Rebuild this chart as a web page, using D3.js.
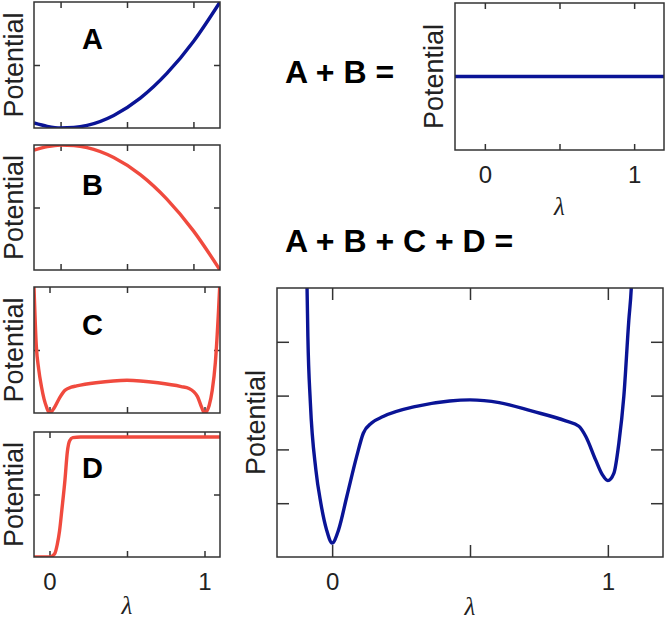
<!DOCTYPE html>
<html>
<head>
<meta charset="utf-8">
<script src="https://cdn.jsdelivr.net/npm/d3@7"></script>
<style>
  body { margin: 0; background: #fff; }
  svg { display: block; }
  .tick line { stroke: #333; stroke-width: 1.5; }
  .tick text { font-family: "Liberation Sans", Arial, sans-serif; font-size: 24px; fill: #222; }
</style>
</head>
<body>
<svg width="666" height="623"></svg>
<script>
// (lambda on x, potential on y)
var lambdaA = [-0.2, -0.1, 0, 0.1, 0.2, 0.4, 0.6, 0.8, 1.0, 1.2];
var potA    = [0.04, 0.013, 0.0, 0.004, 0.021, 0.10, 0.237, 0.433, 0.687, 1.0];

var lambdaB = [-0.2, -0.1, 0, 0.1, 0.2, 0.4, 0.6, 0.8, 1.0, 1.2];
var potB    = [0.96, 0.987, 1.0, 0.996, 0.979, 0.90, 0.763, 0.567, 0.313, 0.0];

var lambdaC = [-0.1, -0.085, -0.07, -0.052, -0.035, -0.02, 0, 0.03, 0.065, 0.1, 0.14, 0.175,
               0.3, 0.5, 0.7, 0.85, 0.9, 0.93, 0.955, 0.98, 1.0, 1.015, 1.03, 1.05, 1.07, 1.09, 1.1];
var potC    = [1.0, 0.53, 0.35, 0.21, 0.11, 0.05, 0.0, 0.04, 0.12, 0.18, 0.205, 0.215,
               0.24, 0.26, 0.24, 0.21, 0.195, 0.17, 0.13, 0.05, 0.0, 0.015, 0.06, 0.18, 0.40, 0.8, 1.05];

var lambdaD = [-0.1, 0, 0.02, 0.035, 0.05, 0.065, 0.08, 0.1, 0.115, 0.13, 0.15, 0.2, 1.1];
var potD    = [0, 0, 0.01, 0.03, 0.1, 0.21, 0.38, 0.62, 0.84, 0.93, 0.955, 0.96, 0.96];

var lambdaAB = [-0.2, 1.2];
var potAB    = [0.5, 0.5];

var lambdaSum = [-0.095, -0.091, -0.088, -0.079, -0.059, -0.041, -0.02, 0, 0.023, 0.053, 0.089, 0.113,
                 0.143, 0.185, 0.305, 0.426, 0.5, 0.606, 0.726, 0.847, 0.895, 0.92, 0.956, 0.98, 1.0,
                 1.022, 1.04, 1.058, 1.076, 1.085, 1.09];
var potSum    = [5.6, 5.0, 4.1, 2.87, 1.62, 1.0, 0.5, 0.26, 0.5, 1.12, 1.87, 2.30,
                 2.49, 2.61, 2.80, 2.9, 2.92, 2.87, 2.71, 2.53, 2.43, 2.24, 1.80, 1.53, 1.42,
                 1.56, 2.12, 2.99, 4.4, 5.0, 5.6];

var xTicks = [0, 0.5, 1];
var blue = "#0a1496", red = "#f04a3e";

var svg = d3.select("svg");
var clipCount = 0;

function zip(xs, ys) {
	return xs.map(function (d, i) { return { l: d, v: ys[i] }; });
}

// Draws one boxed panel with ticks on all four sides
function panel(o) {
	var x = d3.scaleLinear().domain(o.xDomain).range([o.x0, o.x1]);
	var y = d3.scaleLinear().domain(o.yDomain).range([o.y1, o.y0]);
	var g = svg.append("g");
	var id = "clip" + (clipCount++);

	g.append("clipPath").attr("id", id)
		.append("rect")
		.attr("x", o.x0).attr("y", o.y0)
		.attr("width", o.x1 - o.x0).attr("height", o.y1 - o.y0);

	var fmt = function (d) { return o.labels && (d == 0 || d == 1) ? String(d) : ""; };

	g.append("g").attr("transform", "translate(0," + o.y1 + ")")
		.call(d3.axisBottom(x).tickValues(xTicks).tickSize(-o.tick).tickSizeOuter(0)
			.tickPadding(16).tickFormat(fmt));
	g.append("g").attr("transform", "translate(0," + o.y0 + ")")
		.call(d3.axisTop(x).tickValues(xTicks).tickSize(-o.tick).tickSizeOuter(0).tickFormat(""));
	if (o.yTicks) {
		g.append("g").attr("transform", "translate(" + o.x0 + ",0)")
			.call(d3.axisLeft(y).tickValues(o.yTicks).tickSize(-o.tick).tickSizeOuter(0).tickFormat(""));
		g.append("g").attr("transform", "translate(" + o.x1 + ",0)")
			.call(d3.axisRight(y).tickValues(o.yTicks).tickSize(-o.tick).tickSizeOuter(0).tickFormat(""));
	}
	g.selectAll(".domain").remove();

	var line = d3.line()
		.x(function (d) { return x(d.l); })
		.y(function (d) { return y(d.v); })
		.curve(d3.curveMonotoneX);

	g.append("path")
		.datum(zip(o.lx, o.ly))
		.attr("clip-path", "url(#" + id + ")")
		.attr("fill", "none")
		.attr("stroke", o.color)
		.attr("stroke-width", 3.4)
		.attr("stroke-linejoin", "round")
		.attr("d", line);

	g.append("rect")
		.attr("x", o.x0).attr("y", o.y0)
		.attr("width", o.x1 - o.x0).attr("height", o.y1 - o.y0)
		.attr("fill", "none").attr("stroke", "#333").attr("stroke-width", 1.5);

	// y label
	g.append("text")
		.attr("transform", "translate(" + o.ylabX + "," + ((o.y0 + o.y1) / 2) + ") rotate(-90)")
		.attr("text-anchor", "middle")
		.style("font-family", "Liberation Sans, Arial, sans-serif")
		.style("font-size", "27px")
		.attr("fill", "#222")
		.text("Potential");

	if (o.letter) {
		g.append("text")
			.attr("x", 92.5).attr("y", o.letterY)
			.attr("text-anchor", "middle")
			.style("font-family", "Liberation Sans, Arial, sans-serif")
			.style("font-size", "29px").style("font-weight", "bold")
			.text(o.letter);
	}
	if (o.lambdaY) {
		g.append("text")
			.attr("x", x(0.5)).attr("y", o.lambdaY)
			.attr("text-anchor", "middle")
			.style("font-family", "Liberation Serif, Times New Roman, serif")
			.style("font-size", "25px").style("font-style", "italic")
			.attr("fill", "#222")
			.text("λ");
	}
}

panel({ x0: 34, x1: 220, y0: 2, y1: 128, xDomain: [-0.2, 1.2], yDomain: [0, 1], yTicks: [0.5],
	tick: 6, lx: lambdaA, ly: potA, color: blue, ylabX: 23, letter: "A", letterY: 49 });
panel({ x0: 34, x1: 220, y0: 145, y1: 270, xDomain: [-0.2, 1.2], yDomain: [0, 1], yTicks: [0.5],
	tick: 6, lx: lambdaB, ly: potB, color: red, ylabX: 23, letter: "B", letterY: 195 });
panel({ x0: 34, x1: 220, y0: 287, y1: 413, xDomain: [-0.1, 1.1], yDomain: [0, 1], yTicks: [0.5],
	tick: 6, lx: lambdaC, ly: potC, color: red, ylabX: 23, letter: "C", letterY: 335 });
panel({ x0: 34, x1: 220, y0: 432, y1: 557, xDomain: [-0.1, 1.1], yDomain: [0, 1], yTicks: [0.5],
	tick: 6, lx: lambdaD, ly: potD, color: red, ylabX: 23, letter: "D", letterY: 478,
	labels: true, lambdaY: 614 });
panel({ x0: 455, x1: 664, y0: 3, y1: 150, xDomain: [-0.2, 1.2], yDomain: [0, 1],
	tick: 6, lx: lambdaAB, ly: potAB, color: blue, ylabX: 443, labels: true, lambdaY: 215 });
panel({ x0: 277, x1: 663, y0: 288, y1: 557, xDomain: [-0.2, 1.2], yDomain: [0, 5], yTicks: [1, 2, 3, 4],
	tick: 12, lx: lambdaSum, ly: potSum, color: blue, ylabX: 265, labels: true, lambdaY: 615 });

// headings
svg.append("text").attr("x", 285).attr("y", 83)
	.style("font-family", "Liberation Sans, Arial, sans-serif")
	.style("font-size", "32px").style("font-weight", "bold")
	.text("A + B =");
svg.append("text").attr("x", 285).attr("y", 252)
	.style("font-family", "Liberation Sans, Arial, sans-serif")
	.style("font-size", "32px").style("font-weight", "bold")
	.text("A + B + C + D =");
</script>
</body>
</html>
